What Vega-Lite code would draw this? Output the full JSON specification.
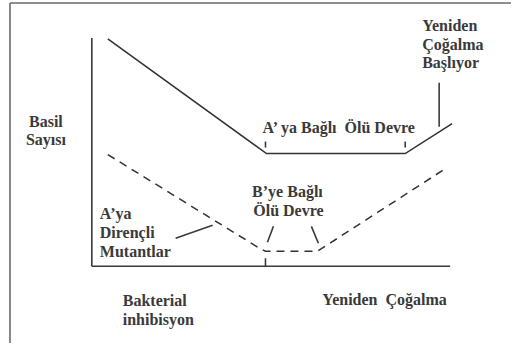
{
  "$schema": "https://vega.github.io/schema/vega-lite/v6.json",
  "width": 512,
  "height": 344,
  "padding": 0,
  "autosize": {"type": "fit", "contains": "padding"},
  "background": "white",
  "config": {"view": {"stroke": null}},
  "datasets": {
    "segments": [
      {"part": "frame", "x": 10, "y": 341, "x2": 512, "y2": 341},
      {"part": "frame", "x": 10, "y": 341, "x2": 10, "y2": 0},
      {"part": "axis", "x": 92, "y": 306, "x2": 92, "y2": 77},
      {"part": "axis", "x": 92, "y": 77, "x2": 451, "y2": 77},
      {"part": "tick", "x": 266, "y": 202, "x2": 266, "y2": 196},
      {"part": "tick", "x": 406, "y": 202, "x2": 406, "y2": 196},
      {"part": "tick", "x": 266, "y": 85, "x2": 266, "y2": 77},
      {"part": "tick", "x": 440, "y": 261, "x2": 440, "y2": 217},
      {"part": "tick", "x": 176, "y": 105, "x2": 213, "y2": 118},
      {"part": "tick", "x": 274, "y": 117, "x2": 268, "y2": 101},
      {"part": "tick", "x": 312, "y": 117, "x2": 319, "y2": 100}
    ],
    "solid": [
      {"order": 1, "x": 108, "y": 305},
      {"order": 2, "x": 267, "y": 190},
      {"order": 3, "x": 406, "y": 190},
      {"order": 4, "x": 453, "y": 220}
    ],
    "dashed": [
      {"order": 1, "x": 108, "y": 189},
      {"order": 2, "x": 260, "y": 95},
      {"order": 3, "x": 266, "y": 92},
      {"order": 4, "x": 318, "y": 92},
      {"order": 5, "x": 448, "y": 176}
    ],
    "centerLabels": [
      {"x": 46, "y": 217, "text": "Basil"},
      {"x": 46, "y": 199, "text": "Sayısı"},
      {"x": 288, "y": 146, "text": "B’ye Bağlı"},
      {"x": 289, "y": 127, "text": "Ölü Devre"}
    ],
    "leftLabels": [
      {"x": 423, "y": 313, "text": "Yeniden"},
      {"x": 423, "y": 294, "text": "Çoğalma"},
      {"x": 423, "y": 276, "text": "Başlıyor"},
      {"x": 263, "y": 211, "text": "A’ ya Bağlı\u00a0 Ölü Devre"},
      {"x": 100, "y": 124, "text": "A’ya"},
      {"x": 100, "y": 105, "text": "Dirençli"},
      {"x": 100, "y": 86, "text": "Mutantlar"},
      {"x": 123, "y": 37, "text": "Bakterial"},
      {"x": 123, "y": 18, "text": "inhibisyon"},
      {"x": 323, "y": 38, "text": "Yeniden\u00a0 Çoğalma"}
    ]
  },
  "encoding": {
    "x": {"field": "x", "type": "quantitative", "scale": {"domain": [0, 512], "nice": false, "zero": false}, "axis": null},
    "y": {"field": "y", "type": "quantitative", "scale": {"domain": [0, 344], "nice": false, "zero": false}, "axis": null}
  },
  "layer": [
    {
      "data": {"name": "segments"},
      "mark": {"type": "rule", "strokeWidth": 1.6},
      "encoding": {
        "x2": {"field": "x2"},
        "y2": {"field": "y2"},
        "color": {
          "field": "part",
          "type": "nominal",
          "scale": {"domain": ["frame", "axis", "tick"], "range": ["#6a6a6a", "#3a3a3a", "#3a3a3a"]},
          "legend": null
        }
      }
    },
    {
      "data": {"name": "solid"},
      "mark": {"type": "line", "color": "#333333", "strokeWidth": 1.6},
      "encoding": {"order": {"field": "order", "type": "quantitative"}}
    },
    {
      "data": {"name": "dashed"},
      "mark": {"type": "line", "color": "#333333", "strokeWidth": 1.5, "strokeDash": [8, 6]},
      "encoding": {"order": {"field": "order", "type": "quantitative"}}
    },
    {
      "data": {"name": "centerLabels"},
      "mark": {"type": "text", "font": "Liberation Serif", "fontWeight": "bold", "fontSize": 16, "color": "#3a3a3a", "baseline": "alphabetic", "align": "center"},
      "encoding": {"text": {"field": "text", "type": "nominal"}}
    },
    {
      "data": {"name": "leftLabels"},
      "mark": {"type": "text", "font": "Liberation Serif", "fontWeight": "bold", "fontSize": 16, "color": "#3a3a3a", "baseline": "alphabetic", "align": "left"},
      "encoding": {"text": {"field": "text", "type": "nominal"}}
    }
  ]
}
